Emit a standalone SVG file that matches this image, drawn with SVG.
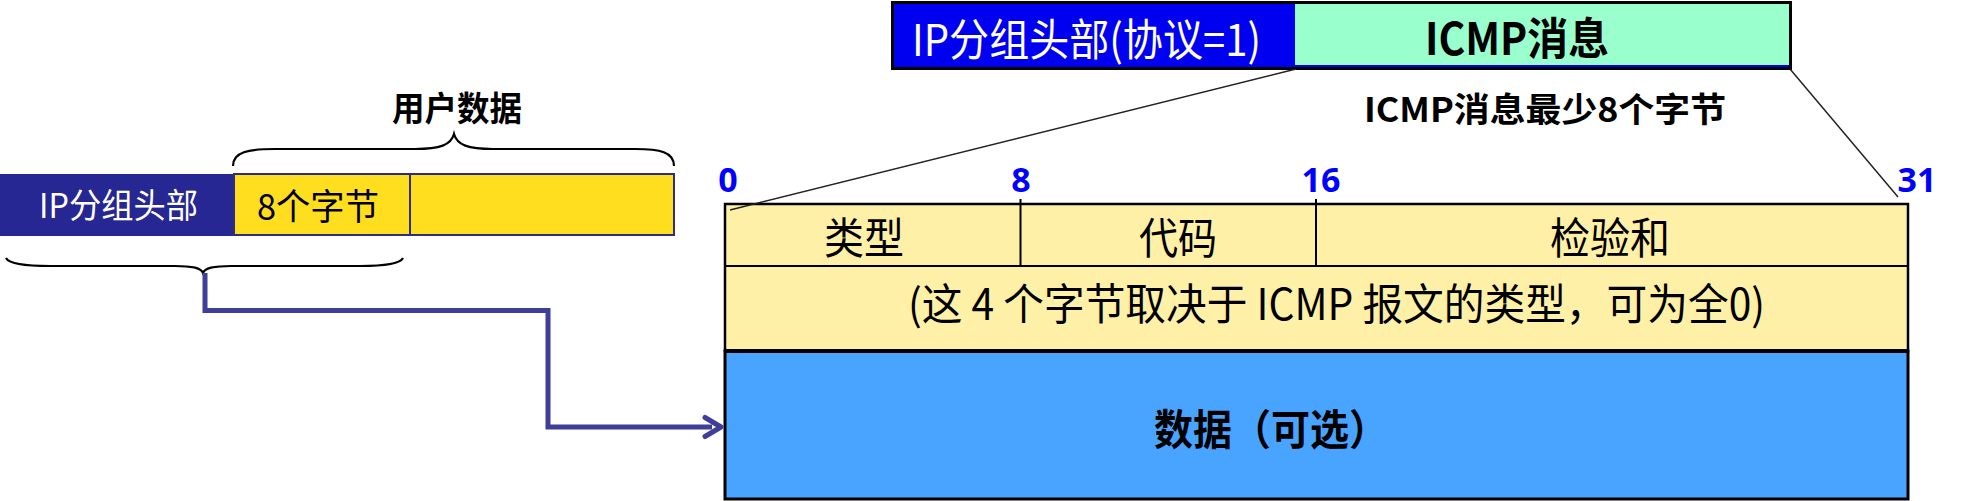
<svg xmlns="http://www.w3.org/2000/svg" width="1965" height="501" viewBox="0 0 1965 501">
<style>
.cjk{font-family:"Noto Sans CJK SC","Noto Sans",sans-serif;}
.b{font-weight:700;}
.bit{font-family:"Open Sans","Noto Sans",sans-serif;font-weight:700;font-size:34px;fill:#0000FF;text-anchor:middle;}
.brace{fill:none;stroke:#000;stroke-width:2.2;}
.thin{stroke:#222;stroke-width:1.5;fill:none;}
.cell{font-size:43px;fill:#000;text-anchor:middle;}
</style>

<g id="top-packet">
<rect x="892.5" y="2.5" width="898" height="66" fill="#0000F0" stroke="#000" stroke-width="3"/>
<rect x="1295" y="4" width="494" height="61" fill="#99FFCC"/>
<text class="cjk" x="912" y="56" font-size="44" fill="#FFFFFF" textLength="349" lengthAdjust="spacingAndGlyphs">IP分组头部(协议=1)</text>
<text class="cjk b" x="1425" y="55" font-size="44" fill="#000" textLength="184" lengthAdjust="spacingAndGlyphs">ICMP消息</text>
</g>

<g id="min-label">
<text class="cjk b" x="1364" y="122" font-size="34" fill="#000" textLength="362" lengthAdjust="spacingAndGlyphs">ICMP消息最少8个字节</text>
</g>

<g id="left-packet">
<rect x="0" y="174" width="234" height="62" fill="#272793"/>
<rect x="234" y="174" width="176" height="61" fill="#FFDD1F" stroke="#2E2E7E" stroke-width="2"/>
<rect x="410" y="174" width="264" height="61" fill="#FFDD1F" stroke="#2E2E7E" stroke-width="2"/>
<text class="cjk" x="39" y="218" font-size="34" fill="#FFFFFF" textLength="159" lengthAdjust="spacingAndGlyphs">IP分组头部</text>
<text class="cjk" x="257" y="220" font-size="36" fill="#000" textLength="122" lengthAdjust="spacingAndGlyphs">8个字节</text>
</g>

<g id="user-data">
<path class="brace" d="M233,166 C233,152 248,149 275,149 L415,149 C440,149 451,145 454,134 C457,145 468,149 493,149 L635,149 C660,149 674,152 674,166"/>
<text class="cjk b" x="392" y="121" font-size="34" fill="#000" textLength="130" lengthAdjust="spacingAndGlyphs">用户数据</text>
</g>

<g id="bottom-brace">
<path class="brace" d="M6,258 C9,264 25,266 50,266 L175,266 C193,266 201,268 203,273 C205,268 213,266 231,266 L360,266 C385,266 400,264 403,258"/>
</g>

<g id="bits">
<text class="bit" x="728" y="192">0</text>
<text class="bit" x="1021" y="192">8</text>
<text class="bit" x="1321" y="192">16</text>
<text class="bit" x="1917" y="192">31</text>
</g>

<g id="icmp-header">
<rect x="725" y="204" width="1183" height="147" fill="#FFF0A8" stroke="#000" stroke-width="2.5"/>
<line x1="725" y1="266" x2="1908" y2="266" stroke="#000" stroke-width="2"/>
<line x1="1020.5" y1="199" x2="1020.5" y2="266" stroke="#000" stroke-width="2"/>
<line x1="1316" y1="199" x2="1316" y2="266" stroke="#000" stroke-width="2"/>
<text class="cjk cell" x="864" y="254" textLength="80" lengthAdjust="spacingAndGlyphs">类型</text>
<text class="cjk cell" x="1178" y="254" textLength="78" lengthAdjust="spacingAndGlyphs">代码</text>
<text class="cjk cell" x="1610" y="254" textLength="120" lengthAdjust="spacingAndGlyphs">检验和</text>
<text class="cjk" x="908" y="320" font-size="43" fill="#000" textLength="857" lengthAdjust="spacingAndGlyphs">(这 4 个字节取决于 ICMP 报文的类型，可为全0)</text>
</g>

<g id="icmp-data">
<rect x="725" y="351" width="1183" height="148" fill="#48A4FF" stroke="#000" stroke-width="3"/>
<line x1="725" y1="351" x2="1908" y2="351" stroke="#000" stroke-width="4"/>
<text class="cjk b" x="1154" y="445" font-size="42" fill="#000" textLength="234" lengthAdjust="spacingAndGlyphs">数据（可选）</text>
</g>

<g id="connectors">
<line class="thin" x1="1296" y1="69" x2="730" y2="210"/>
<line class="thin" x1="1790" y1="69" x2="1898" y2="197"/>
<path d="M205,273 L205,310.5 L548,310.5 L548,427 L712,427" fill="none" stroke="#3F3F99" stroke-width="5"/>
<path d="M705,417.5 L721,427 L705,436.5" fill="none" stroke="#3F3F99" stroke-width="5" stroke-linecap="round" stroke-linejoin="round"/>
</g>
</svg>
